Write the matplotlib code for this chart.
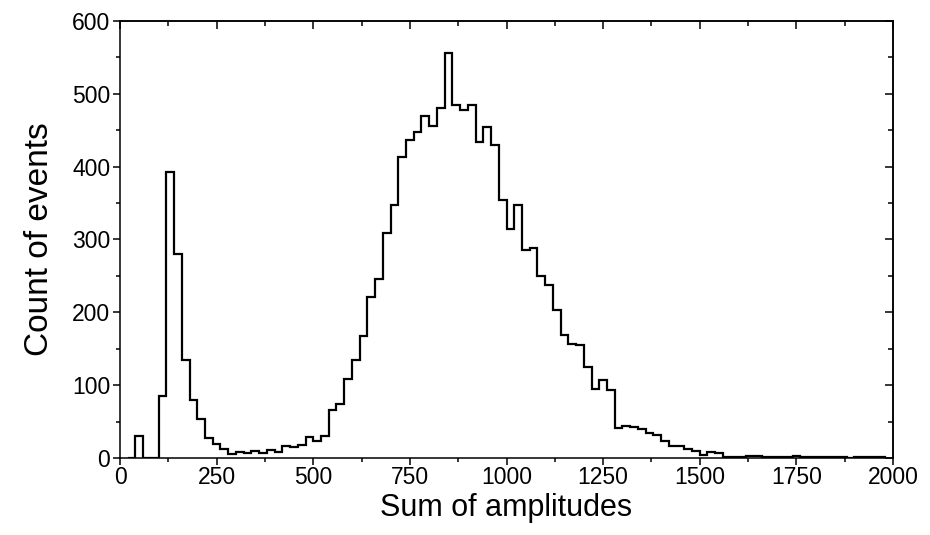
import numpy as np
import matplotlib
matplotlib.use("Agg")
import matplotlib.pyplot as plt
from matplotlib.ticker import MultipleLocator

plt.rcParams['font.family'] = ['Liberation Sans', 'DejaVu Sans']

# Histogram data: bins of width 20 starting at 20
bin_start = 20
bin_width = 20
counts = [
    0, 30, 0, 0, 85, 392, 280, 135, 79, 53,          # 20 - 220
    27, 19, 13, 6, 8, 7, 9, 7, 11, 8,                # 220 - 420
    17, 15, 18, 29, 23, 30, 66, 74, 109, 134,        # 420 - 620
    167, 221, 246, 309, 348, 413, 437, 448, 470, 456,  # 620 - 820
    481, 556, 484, 478, 485, 434, 455, 430, 354, 314,  # 820 - 1020
    347, 285, 289, 250, 237, 203, 169, 157, 155, 125,  # 1020 - 1220
    95, 107, 93, 41, 44, 42, 40, 35, 32, 23,          # 1220 - 1420
    16, 16, 13, 9, 4, 8, 7,                           # 1420 - 1560
    1, 1, 2, 3, 3, 2, 1, 2, 2, 3,                     # 1560 - 1760
    1, 1, 2, 2, 1, 1, 0, 1, 1, 1, 2,                  # 1760 - 1980+
]
edges = bin_start + bin_width * np.arange(len(counts) + 1)

x_ticks = [0, 250, 500, 750, 1000, 1250, 1500, 1750, 2000]
y_ticks = [0, 100, 200, 300, 400, 500, 600]

fig = plt.figure(figsize=(9.3, 5.35), dpi=100)
ax = fig.add_axes([120 / 930, 1 - 458 / 535, (893 - 120) / 930, (458 - 21) / 535])

ax.stairs(counts, edges, color='black', linewidth=1.6, baseline=0)

ax.set_xlim(0, 2000)
ax.set_ylim(0, 600)
ax.set_xticks(x_ticks)
ax.set_yticks(y_ticks)
ax.xaxis.set_minor_locator(MultipleLocator(125))
ax.yaxis.set_minor_locator(MultipleLocator(50))

for s in ax.spines.values():
    s.set_linewidth(1.1)

ax.tick_params(axis='both', which='major', direction='out', length=5, width=1.1,
               labelsize=16.5, top=False, right=False, pad=2)
ax.tick_params(axis='x', which='major', pad=0.5)
ax.tick_params(axis='both', which='minor', direction='out', length=3, width=1.1,
               top=False, right=False)

# secondary ticks on right and top pointing inward
axr = ax.secondary_yaxis('right')
axr.set_yticks(y_ticks)
axr.yaxis.set_minor_locator(MultipleLocator(50))
axr.tick_params(axis='y', which='major', direction='in', length=6, width=1.1, labelright=False)
axr.tick_params(axis='y', which='minor', direction='in', length=3.5, width=1.1)
axr.spines['right'].set_linewidth(1.1)

axt = ax.secondary_xaxis('top')
axt.set_xticks(x_ticks)
axt.xaxis.set_minor_locator(MultipleLocator(125))
axt.tick_params(axis='x', which='major', direction='in', length=6, width=1.1, labeltop=False)
axt.tick_params(axis='x', which='minor', direction='in', length=3.5, width=1.1)
axt.spines['top'].set_linewidth(1.1)

ax.set_xlabel('Sum of amplitudes', fontsize=22, labelpad=3)
ax.set_ylabel('Count of events', fontsize=24, labelpad=12)

fig.savefig('out.png', dpi=100)
